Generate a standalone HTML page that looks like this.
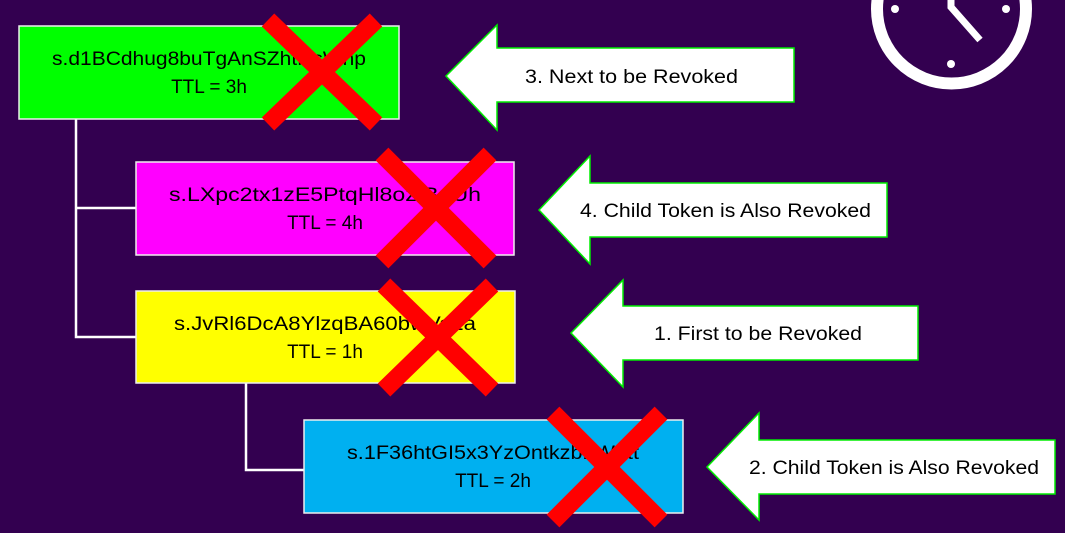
<!DOCTYPE html>
<html><head><meta charset="utf-8"><style>html,body{margin:0;padding:0;background:#330050;}svg{display:block}</style></head>
<body>
<svg width="1065" height="533" viewBox="0 0 1065 533" xmlns="http://www.w3.org/2000/svg" font-family="'Liberation Sans', sans-serif" font-size="19">
<rect width="1065" height="533" fill="#330050"/>
<!-- clock -->
<circle cx="951.5" cy="9" r="74.5" fill="none" stroke="#fff" stroke-width="12"/>
<circle cx="895" cy="9" r="4" fill="#fff"/>
<circle cx="1006" cy="9" r="4" fill="#fff"/>
<circle cx="951" cy="64" r="4" fill="#fff"/>
<polyline points="951,0 951,7 980,40" fill="none" stroke="#fff" stroke-width="7"/>
<!-- connectors -->
<g stroke="#fff" stroke-width="2.5" fill="none">
<polyline points="76,119 76,337 136,337"/>
<line x1="76" y1="208" x2="136" y2="208"/>
<polyline points="246,383 246,470 304,470"/>
</g>
<!-- boxes -->
<g stroke="#eee" stroke-width="1.5">
<rect x="19" y="26" width="380" height="93" fill="#00ff00"/>
<rect x="136" y="162" width="378" height="93" fill="#ff00ff"/>
<rect x="136" y="291" width="379" height="92" fill="#ffff00"/>
<rect x="304" y="420" width="379" height="93" fill="#00b0f0"/>
</g>
<g fill="#000" text-anchor="middle">
<text x="209" y="65" textLength="314" lengthAdjust="spacingAndGlyphs">s.d1BCdhug8buTgAnSZhtNsWhp</text>
<text x="209" y="93">TTL = 3h</text>
<text x="325" y="201" textLength="312" lengthAdjust="spacingAndGlyphs">s.LXpc2tx1zE5PtqHl8oztB4Uh</text>
<text x="325" y="229">TTL = 4h</text>
<text x="325" y="330" textLength="302" lengthAdjust="spacingAndGlyphs">s.JvRl6DcA8YlzqBA60bwVa2a</text>
<text x="325" y="358">TTL = 1h</text>
<text x="493" y="459" textLength="292" lengthAdjust="spacingAndGlyphs">s.1F36htGI5x3YzOntkzb1W1tt</text>
<text x="493" y="487">TTL = 2h</text>
</g>
<!-- X marks -->
<g stroke="#ff0000" stroke-width="18" stroke-linecap="butt">
<line x1="268" y1="20" x2="376" y2="124"/><line x1="376" y1="20" x2="268" y2="124"/>
<line x1="382" y1="154" x2="490" y2="262"/><line x1="490" y1="154" x2="382" y2="262"/>
<line x1="384" y1="285" x2="492" y2="390"/><line x1="492" y1="285" x2="384" y2="390"/>
<line x1="553" y1="413" x2="661" y2="521"/><line x1="661" y1="413" x2="553" y2="521"/>
</g>
<!-- arrows -->
<g fill="#fff" stroke="#00ee00" stroke-width="1.5">
<polygon points="446,76 497,25 497,48 794,48 794,102 497,102 497,130"/>
<polygon points="539,210 590,156 590,183 887,183 887,237 590,237 590,264"/>
<polygon points="571,333 623,280 623,306 918,306 918,360 623,360 623,387"/>
<polygon points="707,467 759,413 759,440 1055,440 1055,494 759,494 759,520"/>
</g>
<g fill="#000">
<text x="525" y="83" textLength="213" lengthAdjust="spacingAndGlyphs">3. Next to be Revoked</text>
<text x="580" y="217" textLength="291" lengthAdjust="spacingAndGlyphs">4. Child Token is Also Revoked</text>
<text x="654" y="340" textLength="208" lengthAdjust="spacingAndGlyphs">1. First to be Revoked</text>
<text x="749" y="474" textLength="290" lengthAdjust="spacingAndGlyphs">2. Child Token is Also Revoked</text>
</g>
</svg>
</body></html>
